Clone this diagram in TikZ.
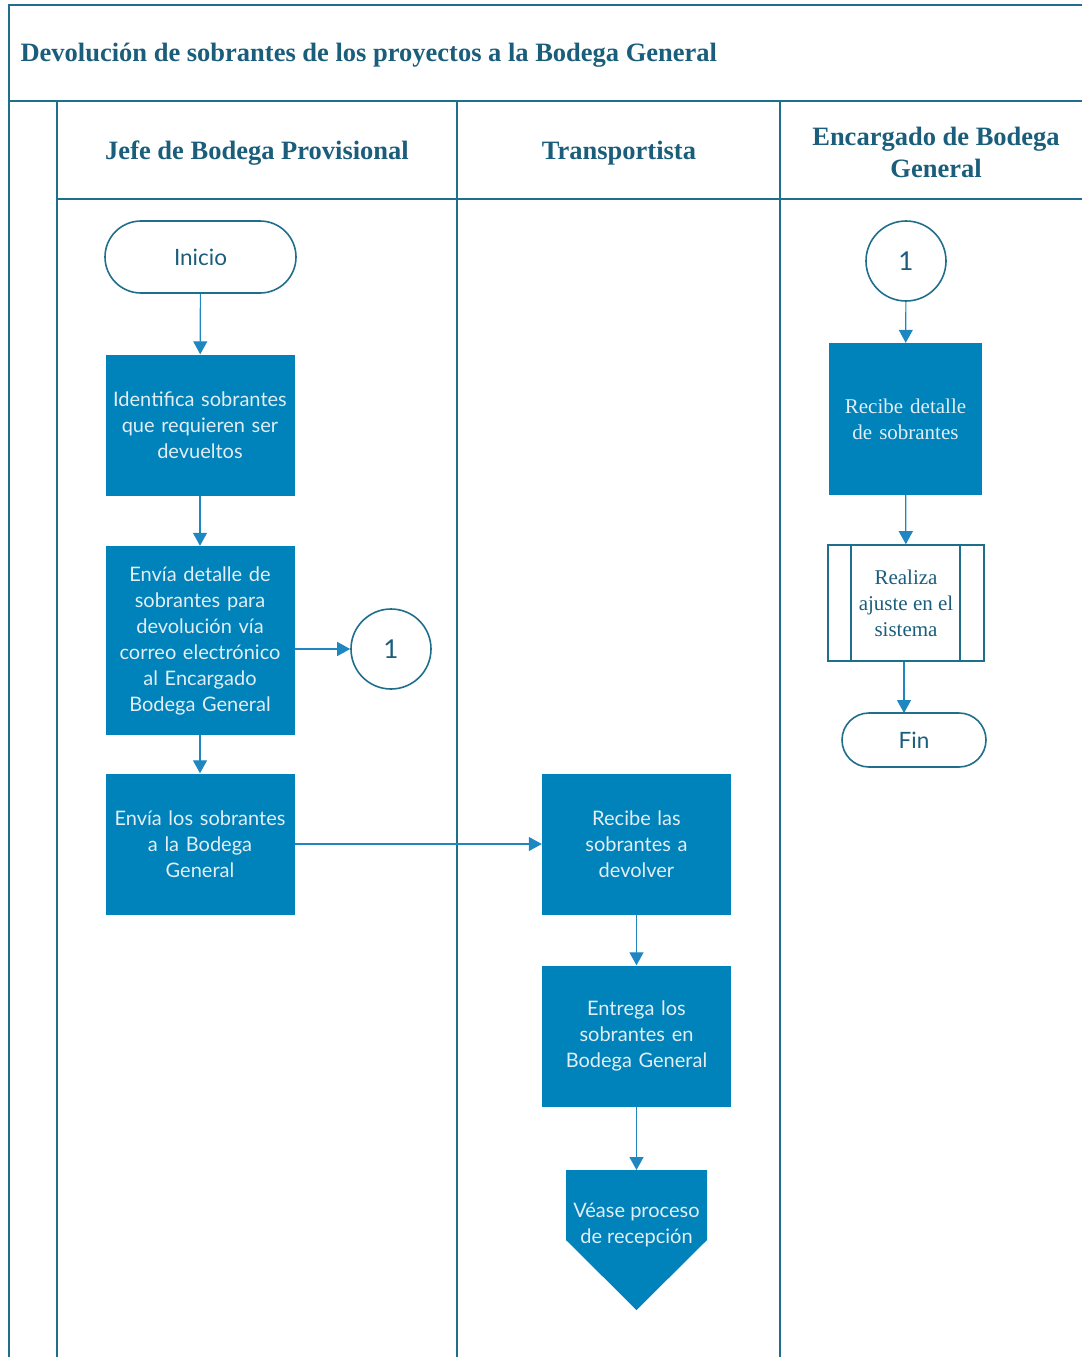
\documentclass[tikz,border=0pt]{standalone}
\usepackage{fontspec}
\setmainfont{Liberation Serif}
\newfontfamily\boxfont{Lato}
\usetikzlibrary{arrows.meta}
\definecolor{frame}{HTML}{1F6E8C}
\definecolor{titletext}{HTML}{1A5E7B}
\definecolor{boxfill}{HTML}{0082BA}
\definecolor{flow}{HTML}{1F87C0}
\definecolor{boxtext}{HTML}{E2EDF4}
\begin{document}
\begin{tikzpicture}[x=1pt,y=-1pt,
  lane/.style={draw=frame,line width=1.8pt},
  heading/.style={font=\fontsize{26.5}{32}\selectfont\bfseries,text=titletext,align=center},
  task/.style={fill=boxfill,draw=none,minimum width=189pt,minimum height=141pt,
    text width=186pt,align=center,text=boxtext,font=\boxfont\fontsize{20}{26}\selectfont,inner sep=0pt},
  serifsize/.style={font=\fontsize{21}{26}\selectfont},
  terminal/.style={draw=frame,line width=1.6pt,fill=white,text=titletext,
    font=\boxfont\fontsize{22.5}{26}\selectfont,inner sep=0pt},
  connector/.style={circle,draw=frame,line width=1.6pt,minimum size=80pt,inner sep=0pt,
    text=titletext,font=\boxfont\fontsize{26}{30}\selectfont},
  flowline/.style={draw=flow,line width=1.2pt,-{Triangle[width=14pt,length=13pt]}}]
\useasboundingbox (0,0) rectangle (1082,1357);

% swimlane frame
\draw[lane] (1082,5) -- (9,5) -- (9,1357);
\draw[lane] (9,101) -- (1082,101);
\draw[lane] (57,199) -- (1082,199);
\draw[lane] (57,101) -- (57,1357);
\draw[lane] (457,101) -- (457,1357);
\draw[lane] (780,101) -- (780,1357);

% titles
\node[heading,anchor=west] (title) at (17,55) {Devolución de sobrantes de los proyectos a la Bodega General};
\node[heading] (laneA) at (257,153) {Jefe de Bodega Provisional};
\node[heading] (laneB) at (619,153) {Transportista};
\node[heading] (laneC) at (936,152) {Encargado de Bodega\\General};

% Jefe de Bodega Provisional
\node[terminal,minimum width=191pt,minimum height=72pt,rounded corners=36pt] (inicio) at (200.5,257) {Inicio};
\node[task] (identifica) at (200,425) {Identifica sobrantes\\que requieren ser\\devueltos};
\node[task,minimum height=189pt] (detalle) at (200,640.5) {Envía detalle de\\sobrantes para\\devolución vía\\correo electrónico\\al Encargado\\Bodega General};
\node[connector] (conA) at (391,649) {1};
\node[task] (envia) at (200,844) {Envía los sobrantes\\a la Bodega\\General};

% Transportista
\node[task] (recibe) at (636.5,844) {Recibe las\\sobrantes a\\devolver};
\node[task] (entrega) at (636.5,1036) {Entrega los\\sobrantes en\\Bodega General};
\fill[boxfill] (566,1170) -- (707,1170) -- (707,1240) -- (636.5,1310) -- (566,1240) -- cycle;
\node[anchor=north,minimum width=141pt,minimum height=110pt,inner sep=0pt,align=center,
  text=boxtext,font=\boxfont\fontsize{20}{26}\selectfont] (vease) at (636.5,1170) {Véase proceso\\de recepción};

% Encargado de Bodega General
\node[connector] (conB) at (906,261) {1};
\node[task,minimum width=153pt,minimum height=152pt,text width=150pt,serifsize] (detalleGen) at (905.5,419) {Recibe detalle\\de sobrantes};
\node[draw=frame,line width=1.6pt,minimum width=156pt,minimum height=116pt,inner sep=0pt,
  align=center,text=titletext,serifsize] (ajuste) at (906,603) {Realiza\\ajuste en el\\sistema};
\draw[frame,line width=1.6pt] ([xshift=24pt]ajuste.north west) -- ([xshift=24pt]ajuste.south west);
\draw[frame,line width=1.6pt] ([xshift=-25pt]ajuste.north east) -- ([xshift=-25pt]ajuste.south east);
\node[terminal,minimum width=144pt,minimum height=54pt,rounded corners=27pt] (fin) at (914,740) {Fin};
\coordinate (finTop) at (904,713);

% flow
\draw[flowline] (inicio) -- (identifica);
\draw[flowline] (identifica) -- (detalle);
\draw[flowline] (detalle) -- (envia);
\draw[flowline] (detalle.east |- conA) -- (conA);
\draw[flowline] (envia) -- (recibe);
\draw[flowline] (recibe) -- (entrega);
\draw[flowline] (entrega) -- (vease);
\draw[flowline] (conB) -- (detalleGen);
\draw[flowline] (detalleGen) -- (ajuste);
\draw[flowline] (ajuste.south -| finTop) -- (finTop);
\end{tikzpicture}
\end{document}
